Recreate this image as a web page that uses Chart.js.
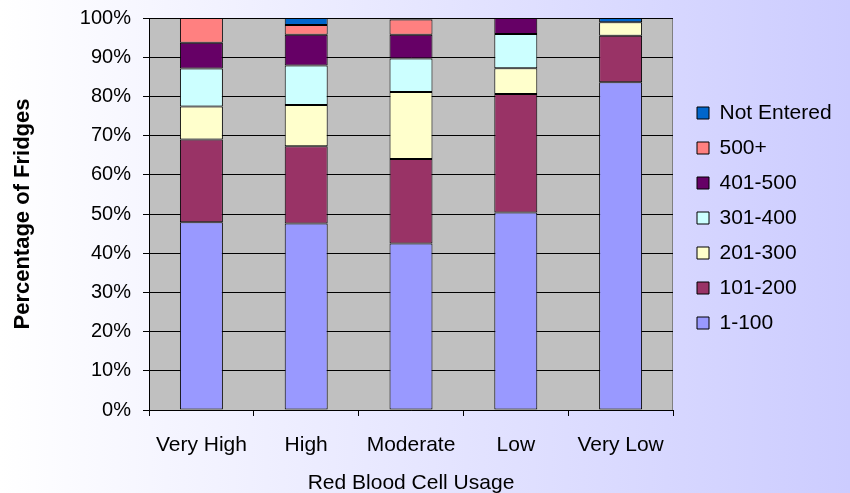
<!DOCTYPE html>
<html>
<head>
<meta charset="utf-8">
<script src="https://cdn.jsdelivr.net/npm/chart.js@4/dist/chart.umd.min.js"></script>
<style>
    body { margin: 0; background: #fff; }
    canvas { display: block; }
</style>
</head>
<body>
<canvas id="usage" width="850" height="493"></canvas>
<script>
// usage groups along the x axis
const usageLevels = ['Very High', 'High', 'Moderate', 'Low', 'Very Low'];

// share of fridges (%) per size band, one value per usage level
const band1to100 = [47.9, 47.6, 42.5, 50.4, 83.6];
const band101to200 = [21.1, 19.7, 21.5, 30.2, 11.9];
const band201to300 = [8.4, 10.5, 17.1, 6.6, 3.4];
const band301to400 = [9.7, 10.1, 8.6, 8.7, 0];
const band401to500 = [6.6, 7.8, 6.0, 4.1, 0];
const band500plus = [6.3, 2.5, 3.9, 0, 0];
const notEntered = [0, 1.8, 0.4, 0, 1.1];

const bandNames = ['1-100', '101-200', '201-300', '301-400', '401-500', '500+', 'Not Entered'];
const bandColours = ['#9999FF', '#993366', '#FFFFCC', '#CCFFFF', '#660066', '#FF8080', '#0066CC'];
const bandValues = [band1to100, band101to200, band201to300, band301to400, band401to500, band500plus, notEntered];

const yTicks = [0, 10, 20, 30, 40, 50, 60, 70, 80, 90, 100];

Chart.defaults.font.family = "'Liberation Sans', Arial, sans-serif";
Chart.defaults.color = '#000';

// page gradient + grey plot area + grey frame on top/right
const backdrop = {
    id: 'backdrop',
    beforeDraw: (chart) => {
        const {ctx, width, height, chartArea: a} = chart;
        ctx.save();
        const g = ctx.createLinearGradient(0, 0, width, 0);
        g.addColorStop(0, '#FFFFFF');
        g.addColorStop(1, '#CCCCFF');
        ctx.fillStyle = g;
        ctx.fillRect(0, 0, width, height);
        ctx.fillStyle = '#C0C0C0';
        ctx.fillRect(a.left, a.top, a.right - a.left, a.bottom - a.top);
        ctx.strokeStyle = '#808080';
        ctx.lineWidth = 1;
        ctx.beginPath();
        ctx.moveTo(a.left, a.top + 0.5);
        ctx.lineTo(a.right - 0.5, a.top + 0.5);
        ctx.lineTo(a.right - 0.5, a.bottom);
        ctx.stroke();
        ctx.restore();
    }
};

// fixed legend column on the right
const legendBox = {
    id: 'legendBox',
    beforeUpdate: (chart) => {
        const lg = chart.legend;
        if (!lg || lg._fixed) return;
        const fit = lg.fit.bind(lg);
        lg.fit = function () {
            fit();
            this.width = 177;
        };
        lg._fixed = true;
    },
    afterLayout: (chart) => {
        const lg = chart.legend;
        lg.left += 10;
        lg.right += 10;
        lg.top += 4;
        lg.bottom += 4;
    }
};

const datasets = bandNames.map((name, i) => ({
    label: name,
    data: bandValues[i],
    backgroundColor: bandColours[i],
    borderColor: '#000',
    borderWidth: 1,
    borderSkipped: false,
    categoryPercentage: 1,
    barPercentage: 0.41
}));

const chart = new Chart(document.getElementById('usage'), {
    type: 'bar',
    data: {
        labels: usageLevels,
        datasets: datasets
    },
    plugins: [backdrop, legendBox],
    options: {
        responsive: false,
        animation: false,
        layout: { padding: { top: 18, right: 0, bottom: 0, left: 0 } },
        plugins: {
            tooltip: { enabled: false },
            legend: {
                position: 'right',
                fullSize: false,
                reverse: true,
                labels: {
                    font: { size: 21 },
                    boxWidth: 12,
                    boxHeight: 12,
                    padding: 14,
                    color: '#000'
                }
            }
        },
        scales: {
            x: {
                stacked: true,
                afterFit: (scale) => { scale.height = 83; },
                grid: {
                    drawOnChartArea: false,
                    drawTicks: true,
                    tickLength: 6,
                    color: '#000'
                },
                border: { color: '#000', width: 1 },
                ticks: { font: { size: 21 }, padding: 17, maxRotation: 0 },
                title: {
                    display: true,
                    text: 'Red Blood Cell Usage',
                    font: { size: 21 },
                    padding: { top: 0, bottom: -3 }
                }
            },
            y: {
                stacked: true,
                min: 0,
                max: 100,
                afterFit: (scale) => {
                    scale.width = 149;
                    scale.paddingTop = 0;
                    scale.paddingBottom = 0;
                },
                afterBuildTicks: (scale) => {
                    scale.ticks = yTicks.map(v => ({ value: v }));
                },
                grid: {
                    color: '#000',
                    lineWidth: 1,
                    drawTicks: true,
                    tickLength: 6
                },
                border: { color: '#000', width: 1 },
                ticks: {
                    font: { size: 20 },
                    padding: 12,
                    callback: (v) => v + '%'
                },
                title: {
                    display: true,
                    text: 'Percentage of Fridges',
                    font: { size: 22, weight: 'bold' },
                    padding: { top: 10, bottom: 0 }
                }
            }
        }
    }
});
</script>
</body>
</html>
